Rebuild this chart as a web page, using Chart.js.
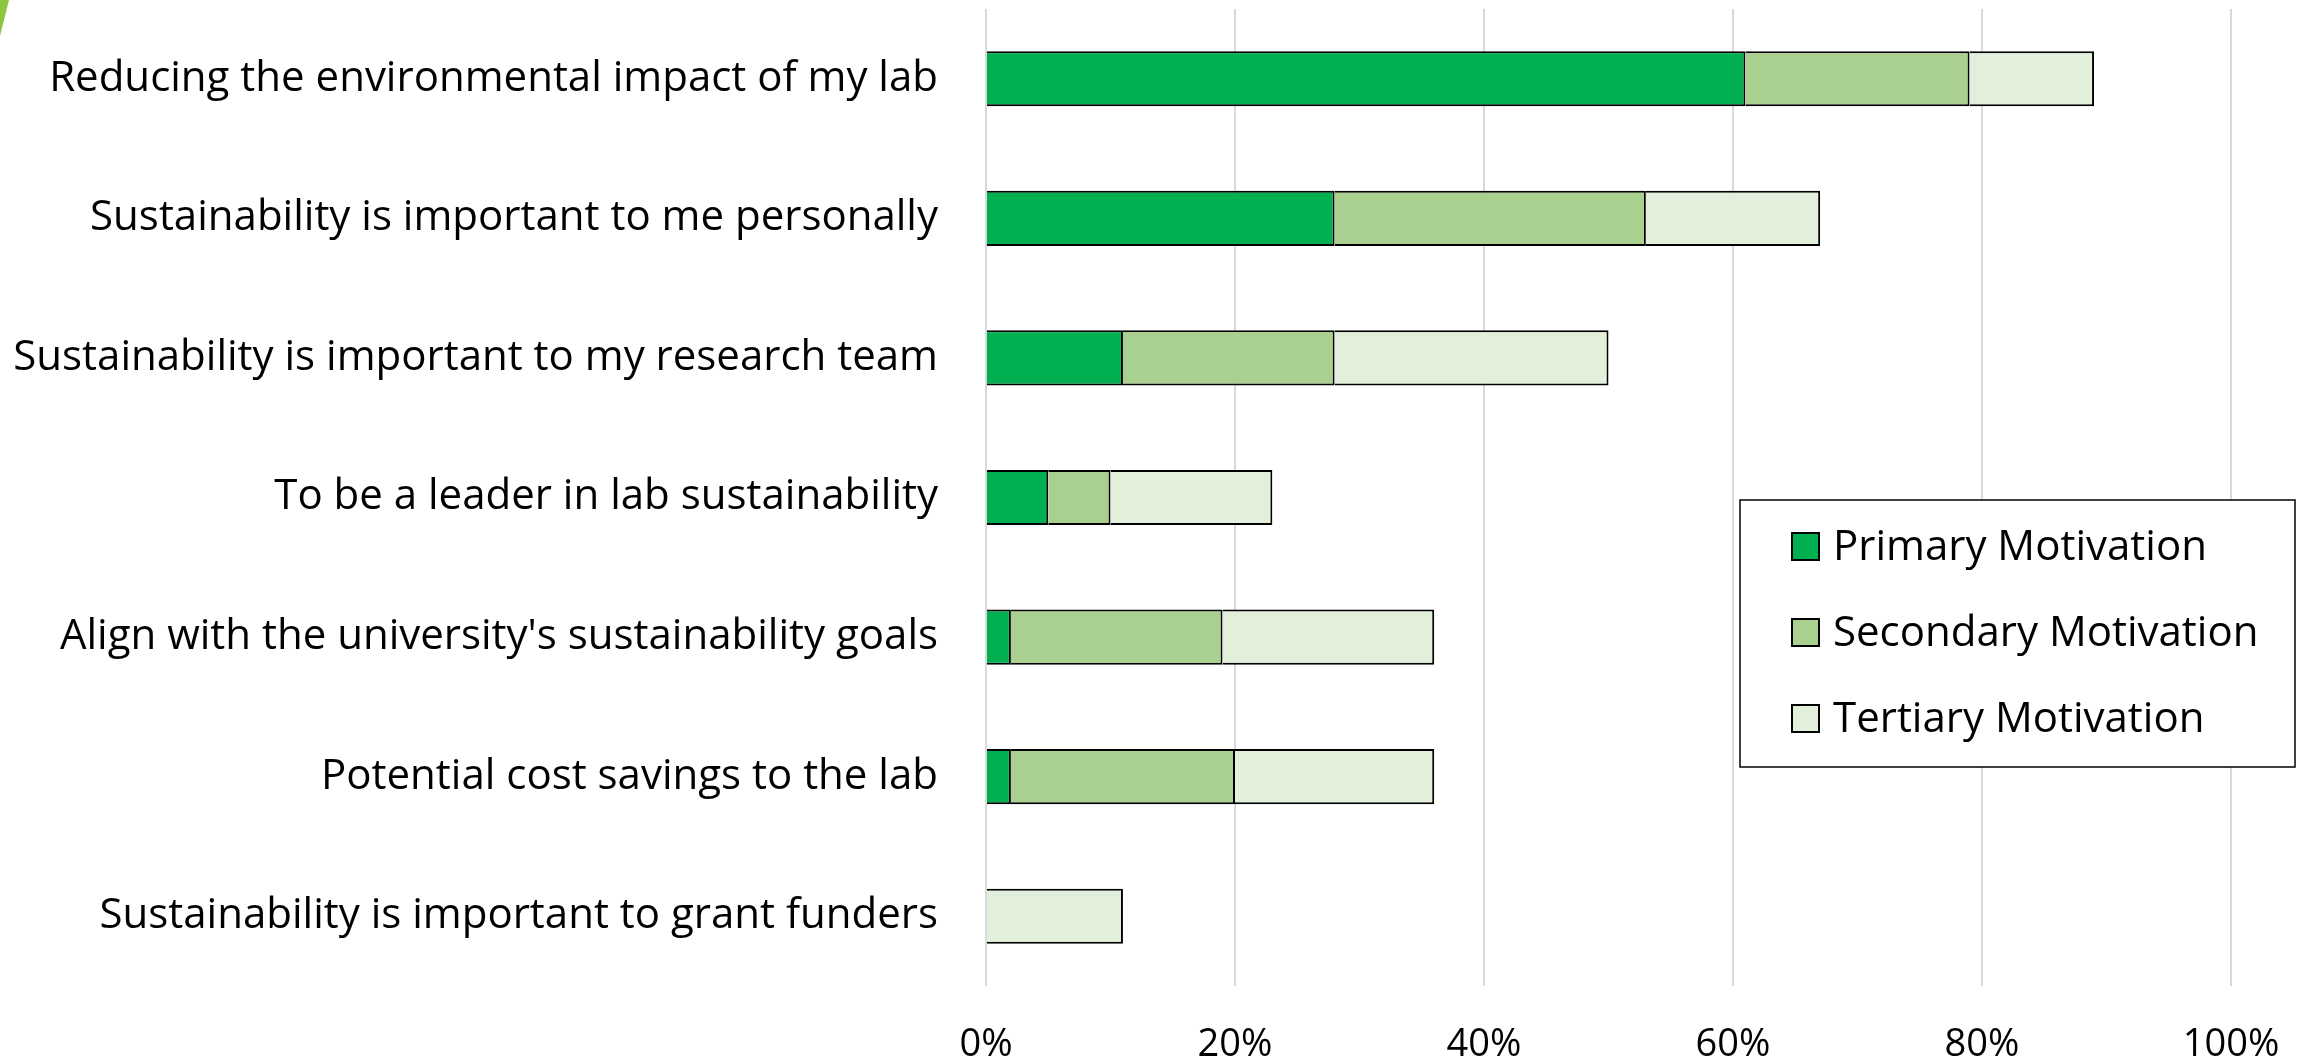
<!DOCTYPE html>
<html>
<head>
<meta charset="utf-8">
<script src="https://cdn.jsdelivr.net/npm/chart.js@4.4.1/dist/chart.umd.min.js"></script>
<style>
  body { margin: 0; background: #fff; overflow: hidden; }
  #wrap { position: relative; width: 2305px; height: 1060px; }
  /* small slide accent in the corner */
  #accent {
    position: absolute; left: 0; top: 0; width: 9px; height: 36px;
    background: #8cc63e; clip-path: polygon(0 0, 9px 0, 0 36px);
  }
</style>
</head>
<body>
<div id="wrap">
  <canvas id="motivationChart"></canvas>
  <div id="accent"></div>
</div>
<script>
// Categories and series (percent of respondents)
const categories = [
  'Reducing the environmental impact of my lab',
  'Sustainability is important to me personally',
  'Sustainability is important to my research team',
  'To be a leader in lab sustainability',
  "Align with the university's sustainability goals",
  'Potential cost savings to the lab',
  'Sustainability is important to grant funders',
];
const primaryMotivation = [61, 28, 11, 5, 2, 2, 0];
const secondaryMotivation = [18, 25, 17, 5, 17, 18, 0];
const tertiaryMotivation = [10, 14, 22, 13, 17, 16, 11];
const tickValues = [0, 20, 40, 60, 80, 100];

const FONT = '"Open Sans", "Noto Sans", sans-serif';

// Boxed legend drawn inside the plot area, lower right
const boxLegend = {
  id: 'boxLegend',
  afterDraw(chart) {
    const ctx = chart.ctx;
    const x = 1740, y = 500, w = 555, h = 267;
    ctx.save();
    ctx.fillStyle = '#fff';
    ctx.fillRect(x, y, w, h);
    ctx.strokeStyle = '#000';
    ctx.lineWidth = 1.5;
    ctx.strokeRect(x, y, w, h);

    ctx.font = '42px ' + FONT;
    ctx.textBaseline = 'middle';
    chart.data.datasets.forEach((ds, i) => {
      const cy = 546 + i * 86;
      ctx.fillStyle = ds.backgroundColor;
      ctx.fillRect(1792, cy - 13, 27, 27);
      ctx.lineWidth = 2;
      ctx.strokeRect(1792, cy - 13, 27, 27);
      ctx.fillStyle = '#000';
      ctx.fillText(ds.label, 1833, cy + 2);
    });
    ctx.restore();
  },
};

const ctx = document.getElementById('motivationChart').getContext('2d');

new Chart(ctx, {
  type: 'bar',
  data: {
    labels: categories,
    datasets: [
      {
        label: 'Primary Motivation',
        data: primaryMotivation,
        backgroundColor: '#00b050',
      },
      {
        label: 'Secondary Motivation',
        data: secondaryMotivation,
        backgroundColor: '#a9d08e',
      },
      {
        label: 'Tertiary Motivation',
        data: tertiaryMotivation,
        backgroundColor: '#e2efda',
      },
    ],
  },
  options: {
    indexAxis: 'y',
    responsive: true,
    maintainAspectRatio: false,
    animation: false,
    layout: { padding: { top: 9, right: 74, left: 0, bottom: 0 } },
    datasets: {
      bar: {
        borderColor: '#000',
        borderWidth: 2,
        categoryPercentage: 1,
        barPercentage: 0.395,
      },
    },
    scales: {
      x: {
        stacked: true,
        min: 0,
        max: 100,
        afterBuildTicks: (scale) => {
          scale.ticks = tickValues.map((v) => ({ value: v }));
        },
        afterFit: (scale) => {
          scale.height = 74;
          scale.paddingLeft = 0;
          scale.paddingRight = 0;
        },
        ticks: {
          padding: 36,
          color: '#000',
          font: { family: FONT, size: 38 },
          callback: (v) => v + '%',
        },
        grid: { color: '#d9d9d9', lineWidth: 2, drawTicks: false },
        border: { display: false },
      },
      y: {
        stacked: true,
        afterFit: (scale) => {
          // fixed label column; no extra room above/below the bars
          scale.width = 986;
          scale.paddingTop = 0;
          scale.paddingBottom = 0;
        },
        ticks: {
          padding: 48,
          color: '#000',
          font: { family: FONT, size: 42 },
        },
        grid: { display: false, drawTicks: false },
        border: { display: false },
      },
    },
    plugins: {
      legend: { display: false },
      tooltip: { enabled: false },
    },
  },
  plugins: [boxLegend],
});
</script>
</body>
</html>
